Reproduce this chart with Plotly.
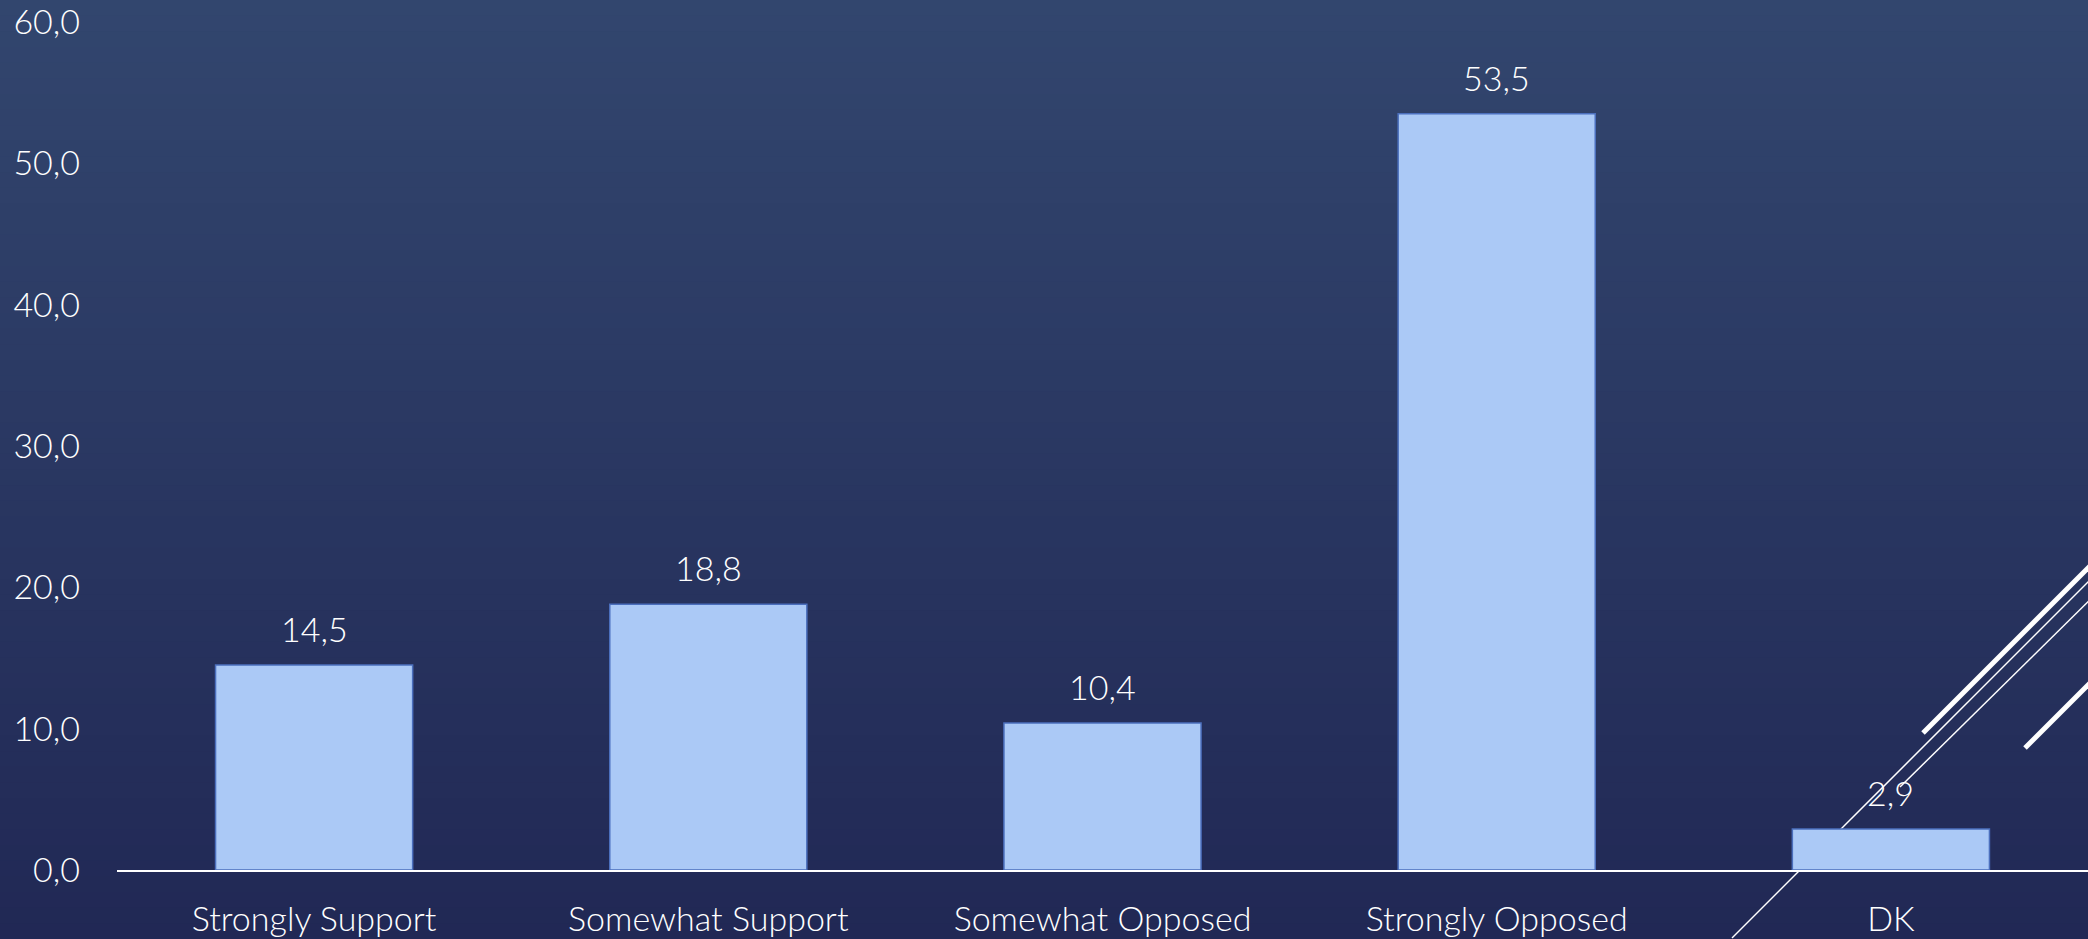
import plotly.graph_objects as go

categories = ["Strongly Support", "Somewhat Support", "Somewhat Opposed", "Strongly Opposed", "DK"]
values = [14.5, 18.8, 10.4, 53.5, 2.9]
y_ticks = [0, 10, 20, 30, 40, 50, 60]

W, H = 2088, 939
L, R, T, B = 117, 0, 22, 69
pw, ph = W - L - R, H - T - B

def px(x):
    return (x - L) / pw

def py(y):
    return (H - B - y) / ph

FONT = dict(family="Lato, Open Sans, sans-serif", size=34, color="#ffffff", weight=300)

fig = go.Figure()
fig.add_trace(go.Bar(
    x=categories, y=values, width=0.5,
    marker=dict(color="#abc9f6", line=dict(color="#4b6fbd", width=1.5)),
    hoverinfo="x+y",
))

annotations = [
    dict(x=c, y=v, xref="x", yref="y", text=("%.1f" % v).replace(".", ","),
         showarrow=False, yanchor="bottom", yshift=14, font=FONT)
    for c, v in zip(categories, values)
]

shapes = []
# background gradient
top = (0x32, 0x46, 0x6e)
bot = (0x21, 0x28, 0x55)
n = 60
for i in range(n):
    f = i / (n - 1)
    c = tuple(round(top[k] + (bot[k] - top[k]) * f) for k in range(3))
    y0 = i * H / n
    y1 = (i + 1) * H / n + 1
    shapes.append(dict(type="rect", xref="paper", yref="paper",
                       x0=px(0), x1=px(W), y0=py(y1), y1=py(y0),
                       fillcolor="rgb(%d,%d,%d)" % c, line=dict(width=0), layer="below"))

# decorative theme lines
deco = [
    ((1923, 733), (2100, 556), 5),
    ((1732, 938), (2100, 570), 1.5),
    ((1900, 787), (2100, 590), 1.5),
    ((2025, 748), (2100, 673), 5),
]
for (x0, y0), (x1, y1), w in deco:
    shapes.append(dict(type="line", xref="paper", yref="paper",
                       x0=px(x0), y0=py(y0), x1=px(x1), y1=py(y1),
                       line=dict(color="#ffffff", width=w), layer="below"))

fig.update_layout(
    width=W, height=H,
    margin=dict(l=L, r=R, t=T, b=B),
    paper_bgcolor="#28315c", plot_bgcolor="rgba(0,0,0,0)",
    separators=",.",
    showlegend=False,
    bargap=0.5,
    shapes=shapes,
    annotations=annotations,
    font=FONT,
)
fig.update_xaxes(showgrid=False, showline=True, linecolor="#ffffff", linewidth=2,
                 ticks="", tickfont=FONT, ticklabelstandoff=18, ticklabeloverflow="allow")
fig.update_yaxes(range=[0, 60], tickvals=y_ticks, tickformat=".1f", showgrid=False,
                 zeroline=False, showline=False, ticks="", tickfont=FONT,
                 ticklabelstandoff=36, ticklabeloverflow="allow")

fig.write_html("out.html", config={"displayModeBar": False},
               post_script="document.body.style.margin='0';document.body.style.overflow='hidden';")
